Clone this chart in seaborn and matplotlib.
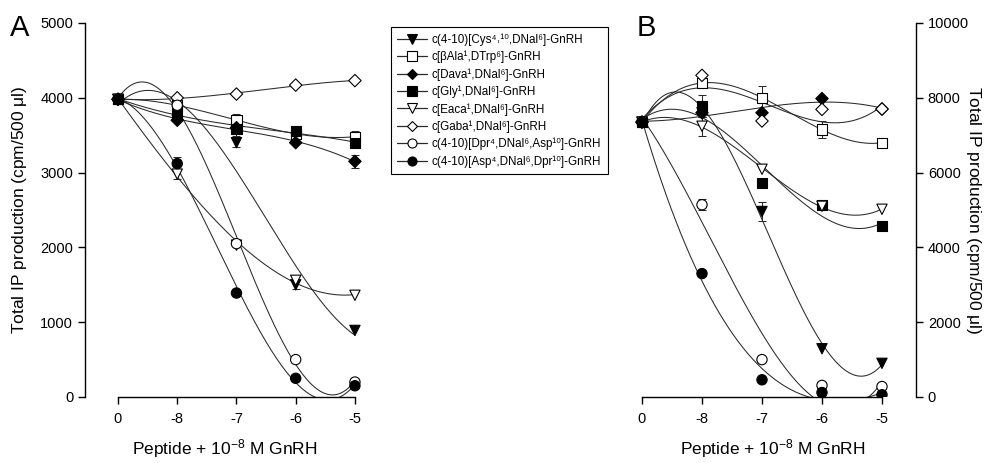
import numpy as np
import pandas as pd
import matplotlib
matplotlib.use("Agg")
import matplotlib.pyplot as plt
from matplotlib.lines import Line2D
import seaborn as sns

# ---------------- data ----------------
tick_labels = ["0", "-8", "-7", "-6", "-5"]
positions = [0, 1, 2, 3, 4]

series_names = [
    "c(4-10)[Cys⁴˒¹⁰,DNal⁶]-GnRH",
    "c[βAla¹,DTrp⁶]-GnRH",
    "c[Dava¹,DNal⁶]-GnRH",
    "c[Gly¹,DNal⁶]-GnRH",
    "c[Eaca¹,DNal⁶]-GnRH",
    "c[Gaba¹,DNal⁶]-GnRH",
    "c(4-10)[Dpr⁴,DNal⁶,Asp¹⁰]-GnRH",
    "c(4-10)[Asp⁴,DNal⁶,Dpr¹⁰]-GnRH",
]
marker_shapes = ["v", "s", "D", "s", "v", "D", "o", "o"]
marker_filled = [True, False, True, True, False, False, False, True]

# Panel A values (cpm/500 ul)
a_cys = [3980, 3700, 3400, 1500, 890]
a_bala = [3980, 3900, 3700, 3520, 3480]
a_dava = [3980, 3700, 3600, 3400, 3150]
a_gly = [3980, 3800, 3580, 3560, 3400]
a_eaca = [3980, 2980, 2030, 1560, 1360]
a_gaba = [3980, 4000, 4050, 4170, 4230]
a_dpr = [3980, 3900, 2050, 500, 200]
a_asp = [3980, 3120, 1390, 250, 150]
a_err = [
    [0, 0, 60, 60, 0],
    [0, 0, 90, 0, 70],
    [0, 0, 0, 0, 90],
    [0, 0, 90, 0, 0],
    [0, 70, 0, 0, 0],
    [0, 0, 0, 0, 0],
    [0, 0, 0, 0, 0],
    [0, 90, 0, 0, 0],
]

# Panel B values (cpm/500 ul)
b_cys = [7350, 7600, 4960, 1290, 900]
b_bala = [7350, 8400, 8000, 7150, 6800]
b_dava = [7350, 7600, 7600, 7980, 7700]
b_gly = [7350, 7780, 5730, 5140, 4580]
b_eaca = [7350, 7240, 6090, 5100, 5020]
b_gaba = [7350, 8600, 7380, 7690, 7700]
b_dpr = [7350, 5140, 1000, 310, 280]
b_asp = [7350, 3300, 460, 120, 60]
b_err = [
    [0, 0, 250, 0, 0],
    [0, 0, 320, 220, 0],
    [0, 0, 0, 0, 0],
    [0, 300, 0, 0, 0],
    [0, 260, 0, 0, 0],
    [0, 0, 0, 0, 0],
    [0, 150, 0, 0, 0],
    [0, 0, 0, 0, 0],
]

panel_a = [a_cys, a_bala, a_dava, a_gly, a_eaca, a_gaba, a_dpr, a_asp]
panel_b = [b_cys, b_bala, b_dava, b_gly, b_eaca, b_gaba, b_dpr, b_asp]

# ---------------- style ----------------
sns.set_style("ticks")
plt.rcParams["font.family"] = ["Liberation Sans", "DejaVu Sans"]
plt.rcParams["mathtext.fontset"] = "custom"
plt.rcParams["mathtext.rm"] = "Liberation Sans"
plt.rcParams["mathtext.it"] = "Liberation Sans:italic"
plt.rcParams["mathtext.default"] = "regular"
plt.rcParams["text.color"] = "black"
plt.rcParams["axes.labelcolor"] = "black"
plt.rcParams["xtick.color"] = "black"
plt.rcParams["ytick.color"] = "black"

fig = plt.figure(figsize=(9.93, 4.63), dpi=100)
W, H = 993, 463
axA = fig.add_axes([85 / W, 1 - 397 / H, (365 - 85) / W, (397 - 23) / H])
axB = fig.add_axes([630 / W, 1 - 397 / H, (916 - 630) / W, (397 - 23) / H])

line_col = "#2a2a2a"


def draw_panel(ax, values, errs, ymax):
    rows_pts = []
    rows_fit = []
    xs = np.linspace(0, 4, 200)
    for name, vals in zip(series_names, values):
        for p, v in zip(positions, vals):
            rows_pts.append({"series": name, "x": p, "y": v})
        coef = np.polyfit(positions, vals, 3)
        for xv in xs:
            rows_fit.append({"series": name, "x": xv, "y": np.polyval(coef, xv)})
    pts = pd.DataFrame(rows_pts)
    fit = pd.DataFrame(rows_fit)

    sns.lineplot(data=fit, x="x", y="y", units="series", estimator=None,
                 color=line_col, linewidth=0.75, ax=ax, legend=False, zorder=2)
    for name, vals, e in zip(series_names, values, errs):
        e = np.array(e)
        m = e > 0
        if m.any():
            ax.errorbar(np.array(positions)[m], np.array(vals)[m], yerr=e[m],
                        fmt="none", ecolor=line_col, elinewidth=0.75,
                        capsize=3, capthick=0.75, zorder=2)
    pal = {n: ("black" if f else "white") for n, f in zip(series_names, marker_filled)}
    mk = {n: s for n, s in zip(series_names, marker_shapes)}
    sizes = {n: (40 if s == "D" else 55) for n, s in zip(series_names, marker_shapes)}
    sns.scatterplot(data=pts, x="x", y="y", hue="series", style="series",
                    size="series", sizes=sizes,
                    palette=pal, markers=mk, edgecolor="black", linewidth=0.8,
                    ax=ax, legend=False, zorder=3)

    ax.set_ylim(0, ymax)
    ax.set_xticks(positions)
    ax.set_xticklabels(tick_labels)
    ax.tick_params(axis="both", direction="out", length=5, width=1,
                   labelsize=10.5, colors="black")
    ax.tick_params(axis="x", pad=6)
    ax.set_xlabel(r"Peptide + 10$^{-8}$ M GnRH", fontsize=12.5, labelpad=8)
    ax.spines["bottom"].set_bounds(0, 4)
    for s in ax.spines.values():
        s.set_linewidth(1)
        s.set_color("black")


draw_panel(axA, panel_a, a_err, 5000)
axA.set_xlim(-0.557, 4.17)
axA.set_yticks([0, 1000, 2000, 3000, 4000, 5000])
axA.spines["left"].set_bounds(0, 5000)
axA.spines["right"].set_visible(False)
axA.spines["top"].set_visible(False)
axA.set_ylabel(r"Total IP production (cpm/500 $\mu$l)", fontsize=12.5, labelpad=8)

draw_panel(axB, panel_b, b_err, 10000)
axB.set_xlim(-0.2, 4.567)
axB.set_yticks([0, 2000, 4000, 6000, 8000, 10000])
axB.yaxis.tick_right()
axB.yaxis.set_label_position("right")
axB.spines["left"].set_visible(False)
axB.spines["top"].set_visible(False)
axB.spines["right"].set_visible(True)
axB.spines["right"].set_bounds(0, 10000)
axB.set_ylabel(r"Total IP production (cpm/500 $\mu$l)", fontsize=12.5,
               rotation=270)
axB.yaxis.set_label_coords((974 - 630) / (916 - 630), 0.5)
axB.yaxis.label.set_va("center")
axB.yaxis.label.set_ha("center")

fig.text(10 / W, 1 - 28 / H, "A", fontsize=21, va="center", ha="left")
fig.text(637 / W, 1 - 28 / H, "B", fontsize=21, va="center", ha="left")

handles = [
    Line2D([0], [0], color=line_col, linewidth=0.9, marker=s,
           markersize=(5.5 if s == "D" else 6.5),
           markerfacecolor=("black" if f else "white"),
           markeredgecolor="black", markeredgewidth=0.8)
    for s, f in zip(marker_shapes, marker_filled)
]
leg = fig.legend(handles, series_names, loc="upper left",
                 bbox_to_anchor=(391 / W, 1 - 27 / H),
                 prop={"family": ["Liberation Sans", "DejaVu Sans"], "size": 8.4},
                 frameon=True, fancybox=False, edgecolor="black",
                 framealpha=1, handlelength=2.5, handletextpad=0.45,
                 labelspacing=0.42, borderpad=0.55, borderaxespad=0)
leg.get_frame().set_linewidth(0.8)

fig.savefig("out.png", dpi=100)
